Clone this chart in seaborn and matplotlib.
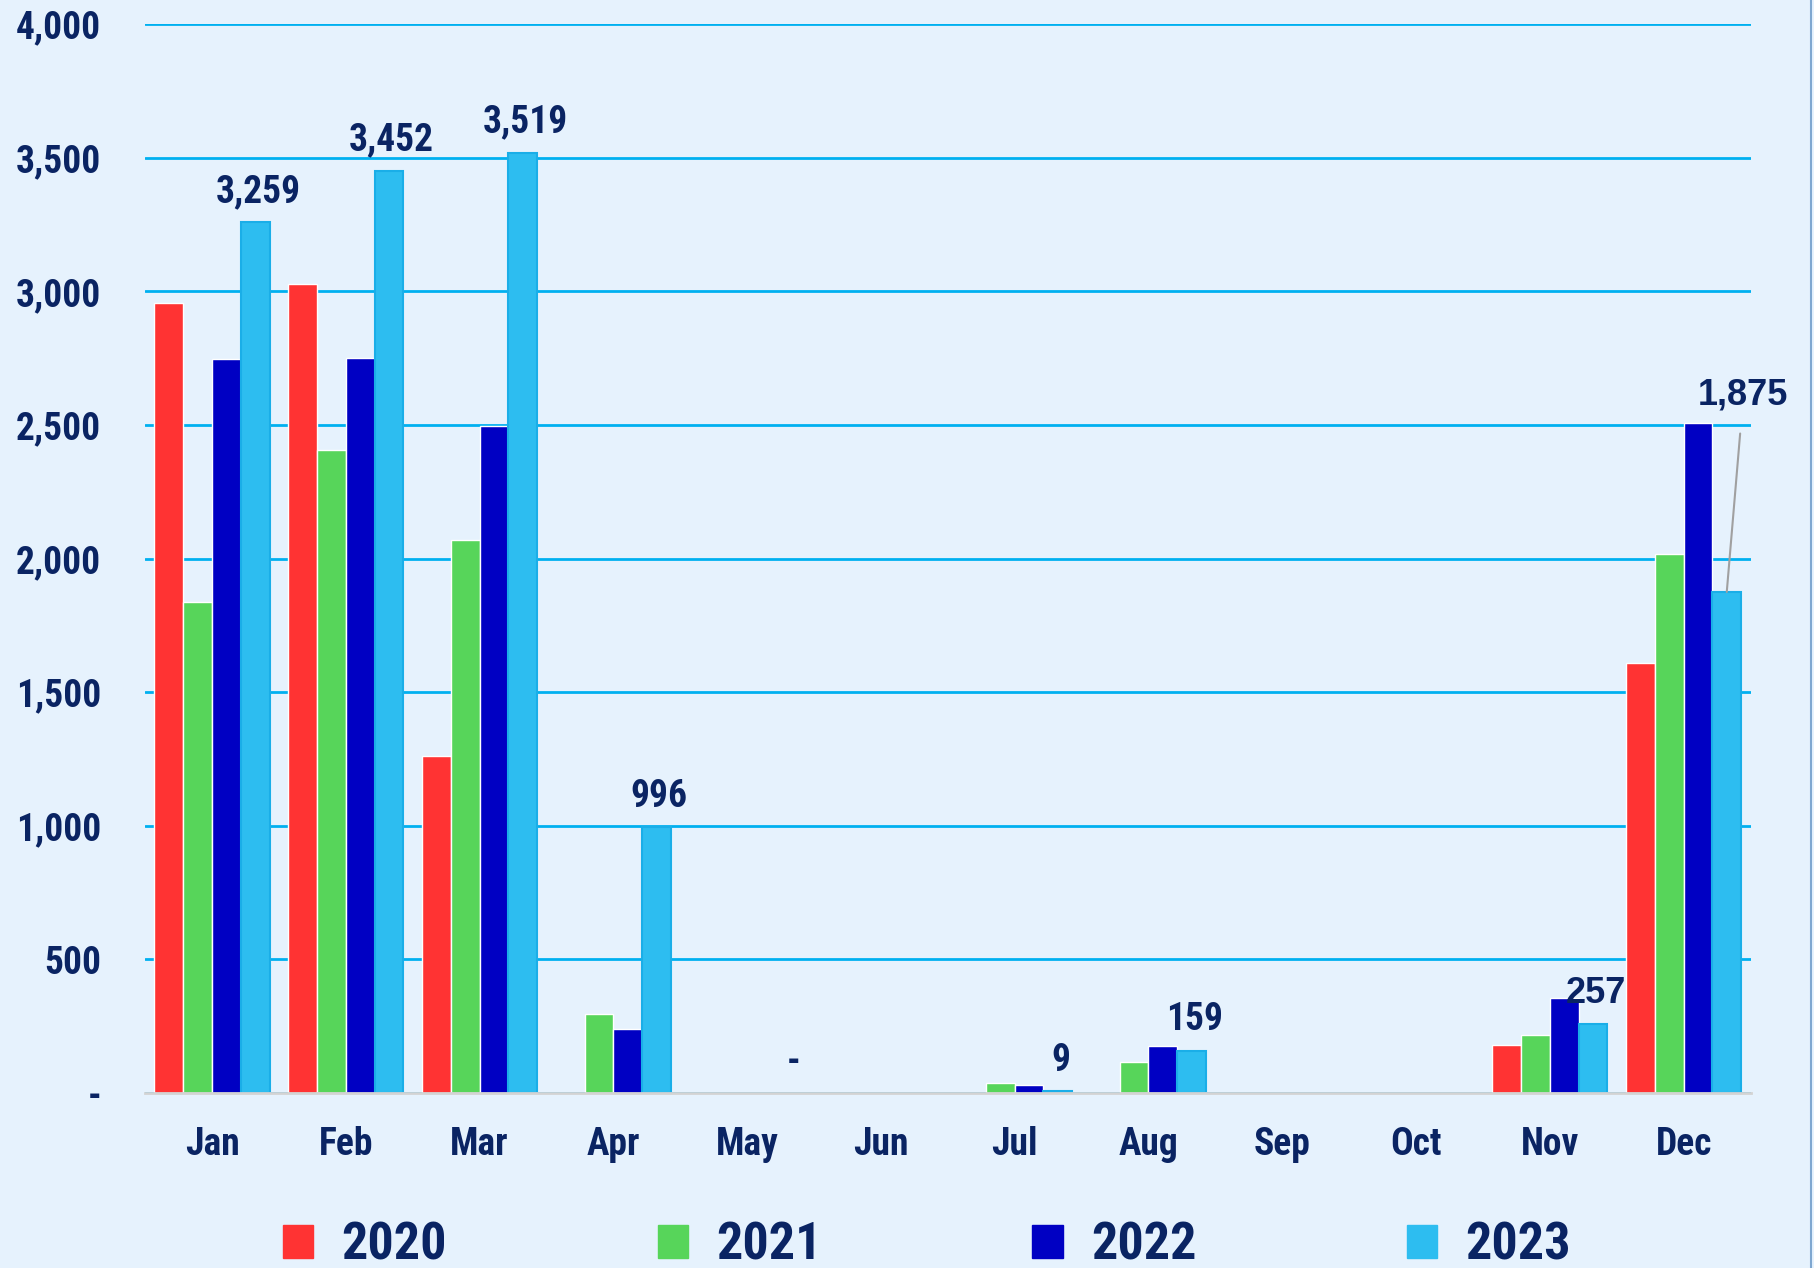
import numpy as np
import pandas as pd
import seaborn as sns
import matplotlib.pyplot as plt
from matplotlib.ticker import FuncFormatter
from matplotlib.patches import Patch
from matplotlib.lines import Line2D

# Data
months = ['Jan', 'Feb', 'Mar', 'Apr', 'May', 'Jun', 'Jul', 'Aug', 'Sep', 'Oct', 'Nov', 'Dec']
years = ['2020', '2021', '2022', '2023']
v2020 = [2955, 3029, 1261, 0, 0, 0, 0, 0, 0, 0, 180, 1610]
v2021 = [1837, 2405, 2071, 295, 0, 0, 37, 117, 0, 0, 218, 2017]
v2022 = [2747, 2751, 2496, 238, 0, 0, 31, 175, 0, 0, 354, 2507]
v2023 = [3259, 3452, 3519, 996, 0, 0, 9, 159, 0, 0, 257, 1875]
# months of the 2023 series that carry a value label
labelled = ['Jan', 'Feb', 'Mar', 'Apr', 'May', 'Jul', 'Aug', 'Nov', 'Dec']

colors = ['#FF3333', '#57D55A', '#0000C3', '#2DBDF0']
navy = '#0A2463'
bg = '#E6F2FD'
narrow = ['Roboto Condensed', 'Barlow Condensed', 'Liberation Sans', 'DejaVu Sans']
wide = ['Liberation Sans', 'DejaVu Sans']

df = pd.DataFrame({
    'month': months * 4,
    'year': np.repeat(years, len(months)),
    'value': v2020 + v2021 + v2022 + v2023,
})

sns.set_theme(style='white')
plt.rcParams['font.family'] = narrow

fig = plt.figure(figsize=(18.14, 12.68), dpi=100, facecolor=bg)
ax = fig.add_axes([0.080, 0.138, 0.885, 0.843])
ax.set_facecolor(bg)

sns.barplot(data=df, x='month', y='value', hue='year', palette=colors,
            width=0.86, saturation=1, legend=False, ax=ax, zorder=3)

# light outline on the 2023 bars, no edge on empty bars
for i, cont in enumerate(ax.containers):
    for p in cont:
        if p.get_height() == 0:
            p.set_linewidth(0)
        elif i == 3:
            p.set_edgecolor('#1AAEE8')
            p.set_linewidth(1.5)

ax.set_ylim(0, 4000)
ax.set_xlim(-0.5, 11.5)
ax.set_yticks(np.arange(0, 4001, 500))
ax.yaxis.set_major_formatter(FuncFormatter(lambda v, _: '-' if v == 0 else f'{int(v):,}'))
ax.grid(axis='y', color='#00B0F0', linewidth=2, zorder=1)
ax.set_axisbelow(True)
for s in ['top', 'right', 'left']:
    ax.spines[s].set_visible(False)
ax.spines['bottom'].set_color('#D3D3D3')
ax.spines['bottom'].set_linewidth(2)
ax.spines['bottom'].set_zorder(4)
ax.set_xlabel('')
ax.set_ylabel('')
ax.tick_params(axis='y', length=0, pad=31.5, labelsize=27, labelcolor=navy)
ax.tick_params(axis='x', length=0, pad=24, labelsize=27, labelcolor=navy)
for t in ax.get_xticklabels() + ax.get_yticklabels():
    t.set_fontweight('bold')

# value labels on the 2023 series
for m, p in zip(months, ax.containers[3]):
    if m not in labelled:
        continue
    x = p.get_x() + p.get_width() / 2
    h = p.get_height()
    txt = '-' if h == 0 else f'{int(h):,}'
    if m == 'Dec':
        ax.annotate(txt, (x, h), xytext=(12, 142), textcoords='offset points',
                    ha='center', va='center', fontsize=26, fontweight='bold', color=navy,
                    family=wide,
                    arrowprops=dict(arrowstyle='-', color='#A0A0A0', lw=1.5,
                                    shrinkA=13, shrinkB=0))
    elif m == 'Nov':
        ax.annotate(txt, (x, h), xytext=(2, 22), textcoords='offset points',
                    ha='center', va='center', fontsize=26, fontweight='bold', color=navy,
                    family=wide)
    else:
        ax.annotate(txt, (x, h), xytext=(2, 22), textcoords='offset points',
                    ha='center', va='center', fontsize=27, fontweight='bold', color=navy)

handles = [Patch(facecolor=c, edgecolor=c) for c in colors]
fig.legend(handles, years, loc='center', bbox_to_anchor=(0.511, 0.0175), ncol=4,
           frameon=False, handlelength=0.58, handleheight=0.58,
           columnspacing=4.05, handletextpad=0.54, labelcolor=navy,
           prop={'weight': 'bold', 'size': 37.5, 'family': narrow})

# thin chart border on the right edge
fig.add_artist(Line2D([0.9985, 0.9985], [0, 1], color='#7FA7D0', lw=1.5))

fig.savefig('out.png', dpi=100, facecolor=bg)
